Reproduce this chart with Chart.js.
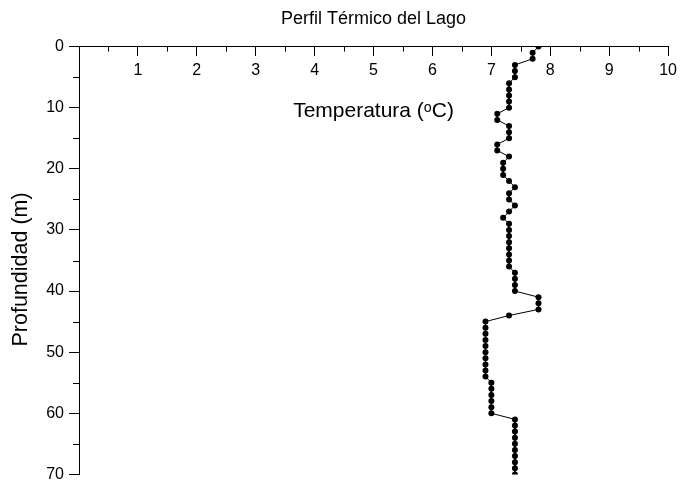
<!DOCTYPE html>
<html>
<head>
<meta charset="utf-8">
<script src="https://cdn.jsdelivr.net/npm/chart.js@4"></script>
<style>
  html, body { margin: 0; padding: 0; background: #fff; }
  #wrap { width: 682px; height: 489px; }
</style>
</head>
<body>
<div id="wrap"><canvas id="perfil"></canvas></div>
<script>
// profundidad (m) y temperatura (°C)
const depths = [
    0, 1, 2, 3, 4, 5, 6, 7, 8, 9,
    10, 11, 12, 13, 14, 15, 16, 17, 18, 19,
    20, 21, 22, 23, 24, 25, 26, 27, 28, 29,
    30, 31, 32, 33, 34, 35, 36, 37, 38, 39,
    40, 41, 42, 43, 44, 45, 46, 47, 48, 49,
    50, 51, 52, 53, 54, 55, 56, 57, 58, 59,
    60, 61, 62, 63, 64, 65, 66, 67, 68, 69,
    70
];
const temps = [
    7.8, 7.7, 7.7, 7.4, 7.4, 7.4, 7.3, 7.3, 7.3, 7.3,
    7.3, 7.1, 7.1, 7.3, 7.3, 7.3, 7.1, 7.1, 7.3, 7.2,
    7.2, 7.2, 7.3, 7.4, 7.3, 7.3, 7.4, 7.3, 7.2, 7.3,
    7.3, 7.3, 7.3, 7.3, 7.3, 7.3, 7.3, 7.4, 7.4, 7.4,
    7.4, 7.8, 7.8, 7.8, 7.3, 6.9, 6.9, 6.9, 6.9, 6.9,
    6.9, 6.9, 6.9, 6.9, 6.9, 7.0, 7.0, 7.0, 7.0, 7.0,
    7.0, 7.4, 7.4, 7.4, 7.4, 7.4, 7.4, 7.4, 7.4, 7.4,
    7.4
];
const xTicks = [0, 1, 2, 3, 4, 5, 6, 7, 8, 9, 10];
const yTicks = [0, 10, 20, 30, 40, 50, 60, 70];

const FONT = '"Liberation Sans", Arial, sans-serif';

// ticks menores a mitad de camino entre los mayores
const minorTicks = {
    id: 'minorTicks',
    afterDraw(chart) {
        const ctx = chart.ctx;
        const xs = chart.scales.x;
        const ys = chart.scales.y;
        const y0 = ys.getPixelForValue(0);
        const left = chart.chartArea.left;
        ctx.save();
        ctx.strokeStyle = '#000';
        ctx.lineWidth = 1;
        ctx.beginPath();
        for (let i = 0; i < xTicks.length - 1; i++) {
            const px = Math.round(xs.getPixelForValue((xTicks[i] + xTicks[i + 1]) / 2)) + 0.5;
            ctx.moveTo(px, y0);
            ctx.lineTo(px, y0 + 5);
        }
        for (let i = 0; i < yTicks.length - 1; i++) {
            const py = Math.round(ys.getPixelForValue((yTicks[i] + yTicks[i + 1]) / 2)) + 0.5;
            ctx.moveTo(left, py);
            ctx.lineTo(left - 6, py);
        }
        ctx.stroke();
        ctx.restore();
    }
};

const ctx = document.getElementById('perfil').getContext('2d');
new Chart(ctx, {
    type: 'scatter',
    data: {
        datasets: [{
            label: 'Temperatura',
            data: depths.map((d, i) => ({ x: temps[i], y: d })),
            showLine: true,
            borderColor: '#000',
            borderWidth: 1,
            pointRadius: 3,
            pointBackgroundColor: '#000',
            pointBorderColor: '#000',
            pointBorderWidth: 0
        }]
    },
    options: {
        responsive: true,
        maintainAspectRatio: false,
        animation: false,
        layout: { padding: { left: 0, right: 11, top: 0, bottom: 9 } },
        plugins: {
            legend: { display: false },
            tooltip: { enabled: false },
            title: {
                display: true,
                text: 'Perfil Térmico del Lago',
                color: '#000',
                fullSize: false,
                font: { family: FONT, size: 18, weight: 'normal' },
                padding: { top: 8, bottom: 17 }
            }
        },
        scales: {
            x: {
                type: 'linear',
                position: { y: 0 },
                min: 0,
                max: 10,
                grid: {
                    display: true,
                    drawOnChartArea: false,
                    drawTicks: true,
                    tickLength: 9,
                    color: '#000'
                },
                border: { display: true, color: '#000', width: 1 },
                ticks: {
                    stepSize: 1,
                    padding: 5,
                    color: '#000',
                    font: { family: FONT, size: 16 },
                    maxRotation: 0,
                    callback: v => (v === 0 ? '' : v)
                },
                title: {
                    display: true,
                    text: 'Temperatura (ᵒC)',
                    color: '#000',
                    font: { family: FONT, size: 21 },
                    padding: { top: 14, bottom: 0 }
                }
            },
            y: {
                type: 'linear',
                position: 'left',
                reverse: true,
                min: 0,
                max: 70,
                afterFit: s => { s.width = 79; },
                grid: {
                    display: true,
                    drawOnChartArea: false,
                    drawTicks: true,
                    tickLength: 10,
                    color: '#000'
                },
                border: { display: true, color: '#000', width: 1 },
                ticks: {
                    stepSize: 10,
                    padding: 5,
                    color: '#000',
                    font: { family: FONT, size: 16 }
                },
                title: {
                    display: true,
                    text: 'Profundidad (m)\u00a0\u00a0\u00a0',
                    color: '#000',
                    font: { family: FONT, size: 21.5 },
                    padding: { top: 8, bottom: 0 }
                }
            }
        }
    },
    plugins: [minorTicks]
});
</script>
</body>
</html>
